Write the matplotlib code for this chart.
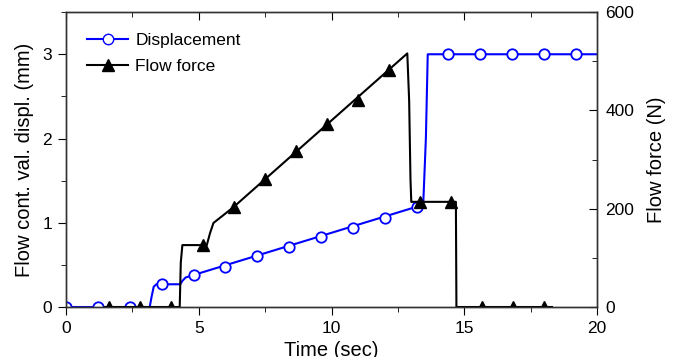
import matplotlib
matplotlib.use("Agg")
import matplotlib.pyplot as plt
from matplotlib.ticker import MultipleLocator

plt.rcParams['font.family'] = ['Liberation Sans', 'DejaVu Sans']

# displacement line (mm)
disp_t = [0, 3.15, 3.22, 3.3, 3.4, 4.3, 4.38, 4.5, 4.7, 13.2, 13.45, 13.55, 13.62, 20]
disp_y = [0, 0, 0.12, 0.24, 0.27, 0.27, 0.31, 0.35, 0.37, 1.19, 1.22, 2.0, 3.0, 3.0]
# displacement markers
disp_mt = [0, 1.2, 2.4, 3.6, 4.8, 6.0, 7.2, 8.4, 9.6, 10.8, 12.0, 13.2, 14.4, 15.6, 16.8, 18.0, 19.2]
disp_my = [0, 0, 0, 0.27, 0.38, 0.48, 0.60, 0.71, 0.83, 0.94, 1.06, 1.19, 3.0, 3.0, 3.0, 3.0, 3.0]

# flow force line (N)
force_t = [1.45, 4.28, 4.32, 4.38, 5.3, 5.42, 5.55, 6.3, 12.85, 12.92, 12.97, 13.0, 14.68, 14.7, 18.3]
force_y = [0, 0, 90, 126, 126, 150, 171, 203, 516, 420, 260, 214, 214, 0, 0]
# flow force markers
force_mt = [1.63, 2.8, 3.97, 5.14, 6.31, 7.48, 8.65, 9.82, 10.99, 12.16, 13.33, 14.5, 15.67, 16.84, 18.01]
force_my = [0, 0, 0, 126, 203, 261, 318, 372, 422, 482, 214, 214, 0, 0, 0]

fig = plt.figure(figsize=(6.74, 3.57), dpi=100)
ax = fig.add_axes([0.098, 0.14, 0.788, 0.826])
ax2 = ax.twinx()

ax.plot(disp_t, disp_y, color='#0000ff', lw=1.5)
ax.plot(disp_mt, disp_my, ls='none', marker='o', ms=7.5, mfc='white', mec='#0000ff', mew=1.3)

ax2.plot(force_t, force_y, color='black', lw=1.5)
ax2.plot(force_mt, force_my, ls='none', marker='^', ms=8, color='black')

ax.set_xlim(0, 20)
ax.set_ylim(0, 3.5)
ax2.set_ylim(0, 600)

ax.xaxis.set_major_locator(MultipleLocator(5))
ax.xaxis.set_minor_locator(MultipleLocator(2.5))
ax.yaxis.set_major_locator(MultipleLocator(1))
ax.yaxis.set_minor_locator(MultipleLocator(0.5))
ax2.yaxis.set_major_locator(MultipleLocator(200))
ax2.yaxis.set_minor_locator(MultipleLocator(100))

ax.tick_params(axis='x', which='both', direction='out', top=True, labelsize=12.5, pad=4)
ax.tick_params(axis='x', which='major', length=6)
ax.tick_params(axis='x', which='minor', length=3.5)
ax.tick_params(axis='y', which='both', direction='out', labelsize=12.5, pad=4)
ax.tick_params(axis='y', which='major', length=6)
ax.tick_params(axis='y', which='minor', length=3.5)
ax2.tick_params(axis='y', which='both', direction='in', labelsize=12.5, pad=6)
ax2.tick_params(axis='y', which='major', length=6)
ax2.tick_params(axis='y', which='minor', length=3.5)
# top ticks point into the plot
for t in ax.xaxis.get_major_ticks() + ax.xaxis.get_minor_ticks():
    t.tick2line.set_marker(matplotlib.lines.TICKDOWN)

for a in (ax, ax2):
    for s in a.spines.values():
        s.set_linewidth(1.0)
        s.set_color('#333333')

ax.set_xlabel('Time (sec)', fontsize=14.5, labelpad=4)
ax.set_ylabel('Flow cont. val. displ. (mm)', fontsize=14.5, labelpad=6)
ax2.set_ylabel('Flow force (N)', fontsize=14.5, labelpad=9)

h1, = ax.plot([], [], color='#0000ff', lw=1.5, marker='o', ms=7.5, mfc='white', mec='#0000ff')
h2, = ax.plot([], [], color='black', lw=1.5, marker='^', ms=8)
ax2.legend([h1, h2], ['Displacement', 'Flow force'], loc='upper left',
           bbox_to_anchor=(0.026, 0.953), frameon=False, fontsize=12.5,
           handlelength=2.4, handletextpad=0.4, labelspacing=0.6, borderaxespad=0)

fig.savefig('out.png', dpi=100)
